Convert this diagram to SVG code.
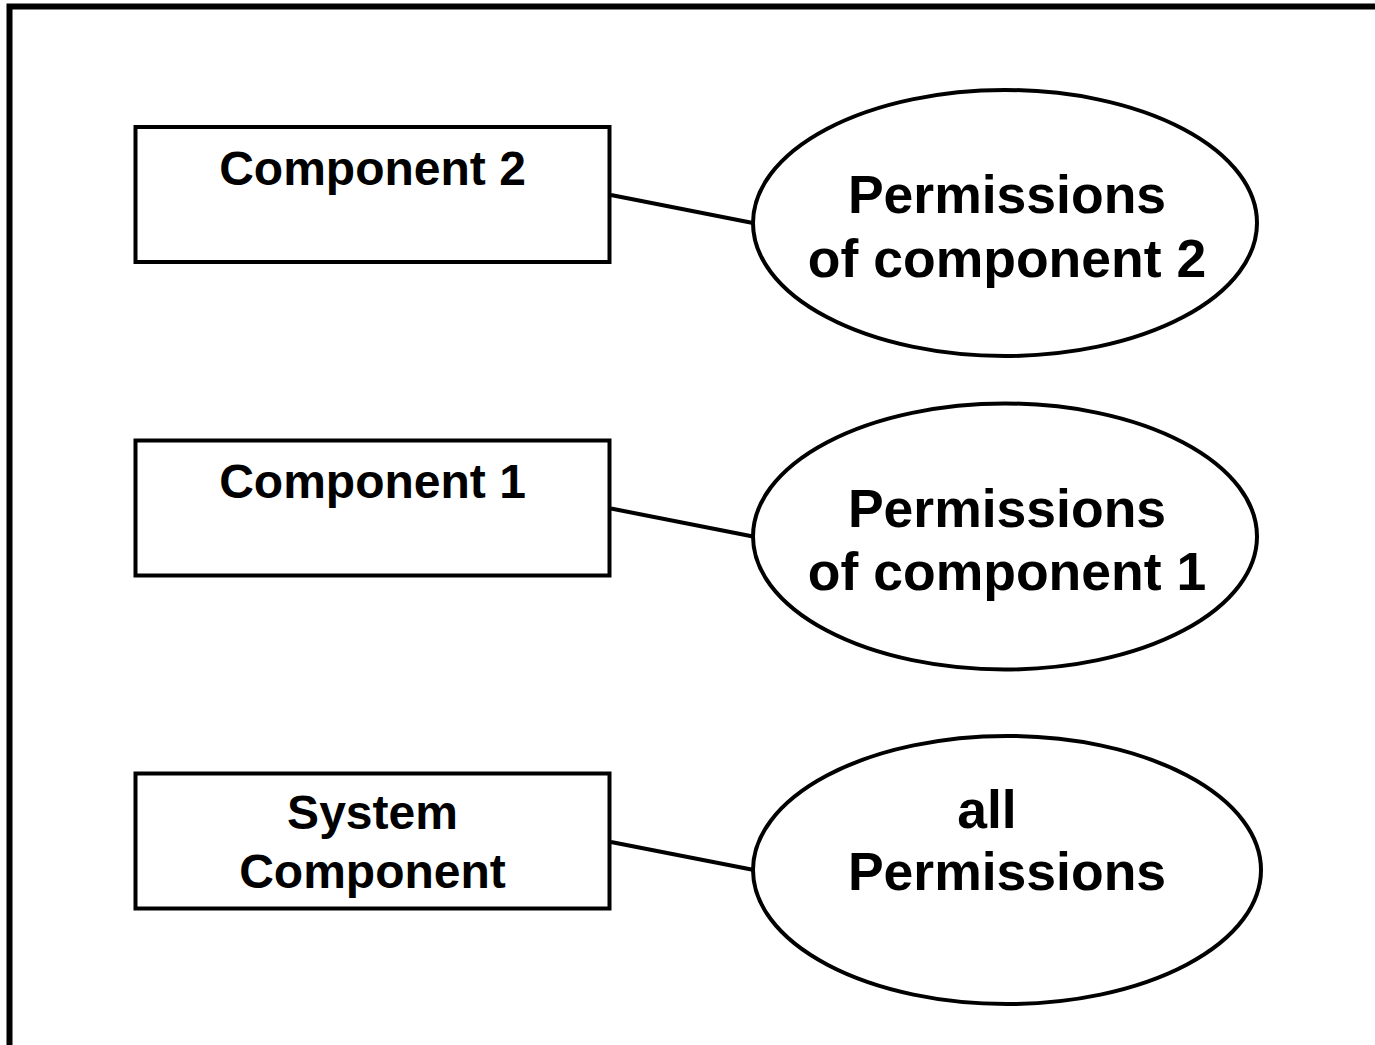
<svg xmlns="http://www.w3.org/2000/svg" width="1375" height="1045" viewBox="0 0 1375 1045">
  <style>
    .frame { fill: none; stroke: #000; stroke-width: 6; }
    .box { fill: #fff; stroke: #000; stroke-width: 4; }
    .oval { fill: #fff; stroke: #000; stroke-width: 4; }
    .link { stroke: #000; stroke-width: 4; fill: none; }
    .lbl { font-family: "Liberation Sans", Arial, sans-serif; font-weight: bold; font-size: 48px; text-anchor: middle; fill: #000; }
    .olbl { font-family: "Liberation Sans", Arial, sans-serif; font-weight: bold; font-size: 53.5px; text-anchor: middle; fill: #000; }
  </style>
  <rect width="1375" height="1045" fill="#fff"/>
  <!-- outer frame, open on the right and bottom edges -->
  <rect class="frame" x="9.5" y="6.5" width="1420" height="1100"/>

  <g id="connectors">
    <line class="link" x1="611" y1="195" x2="753" y2="223"/>
    <line class="link" x1="611" y1="508.5" x2="753" y2="536.5"/>
    <line class="link" x1="611" y1="842" x2="754" y2="870"/>
  </g>

  <g id="component2">
    <rect class="box" x="135.5" y="127" width="474" height="135"/>
    <text class="lbl" x="372.5" y="185">Component 2</text>
  </g>
  <g id="perm2">
    <ellipse class="oval" cx="1005" cy="223" rx="252" ry="133"/>
    <text class="olbl" x="1007" y="213">Permissions</text>
    <text class="olbl" x="1007" y="277">of component 2</text>
  </g>

  <g id="component1">
    <rect class="box" x="135.5" y="440.5" width="474" height="135"/>
    <text class="lbl" x="372.5" y="498">Component 1</text>
  </g>
  <g id="perm1">
    <ellipse class="oval" cx="1005" cy="536.5" rx="252" ry="133"/>
    <text class="olbl" x="1007" y="527">Permissions</text>
    <text class="olbl" x="1007" y="590">of component 1</text>
  </g>

  <g id="system-component">
    <rect class="box" x="135.5" y="773.5" width="474" height="135"/>
    <text class="lbl" x="372.5" y="829">System</text>
    <text class="lbl" x="372.5" y="888">Component</text>
  </g>
  <g id="all-perms">
    <ellipse class="oval" cx="1007" cy="870" rx="254" ry="134"/>
    <text class="olbl" x="987" y="828">all</text>
    <text class="olbl" x="1007" y="890">Permissions</text>
  </g>
</svg>
